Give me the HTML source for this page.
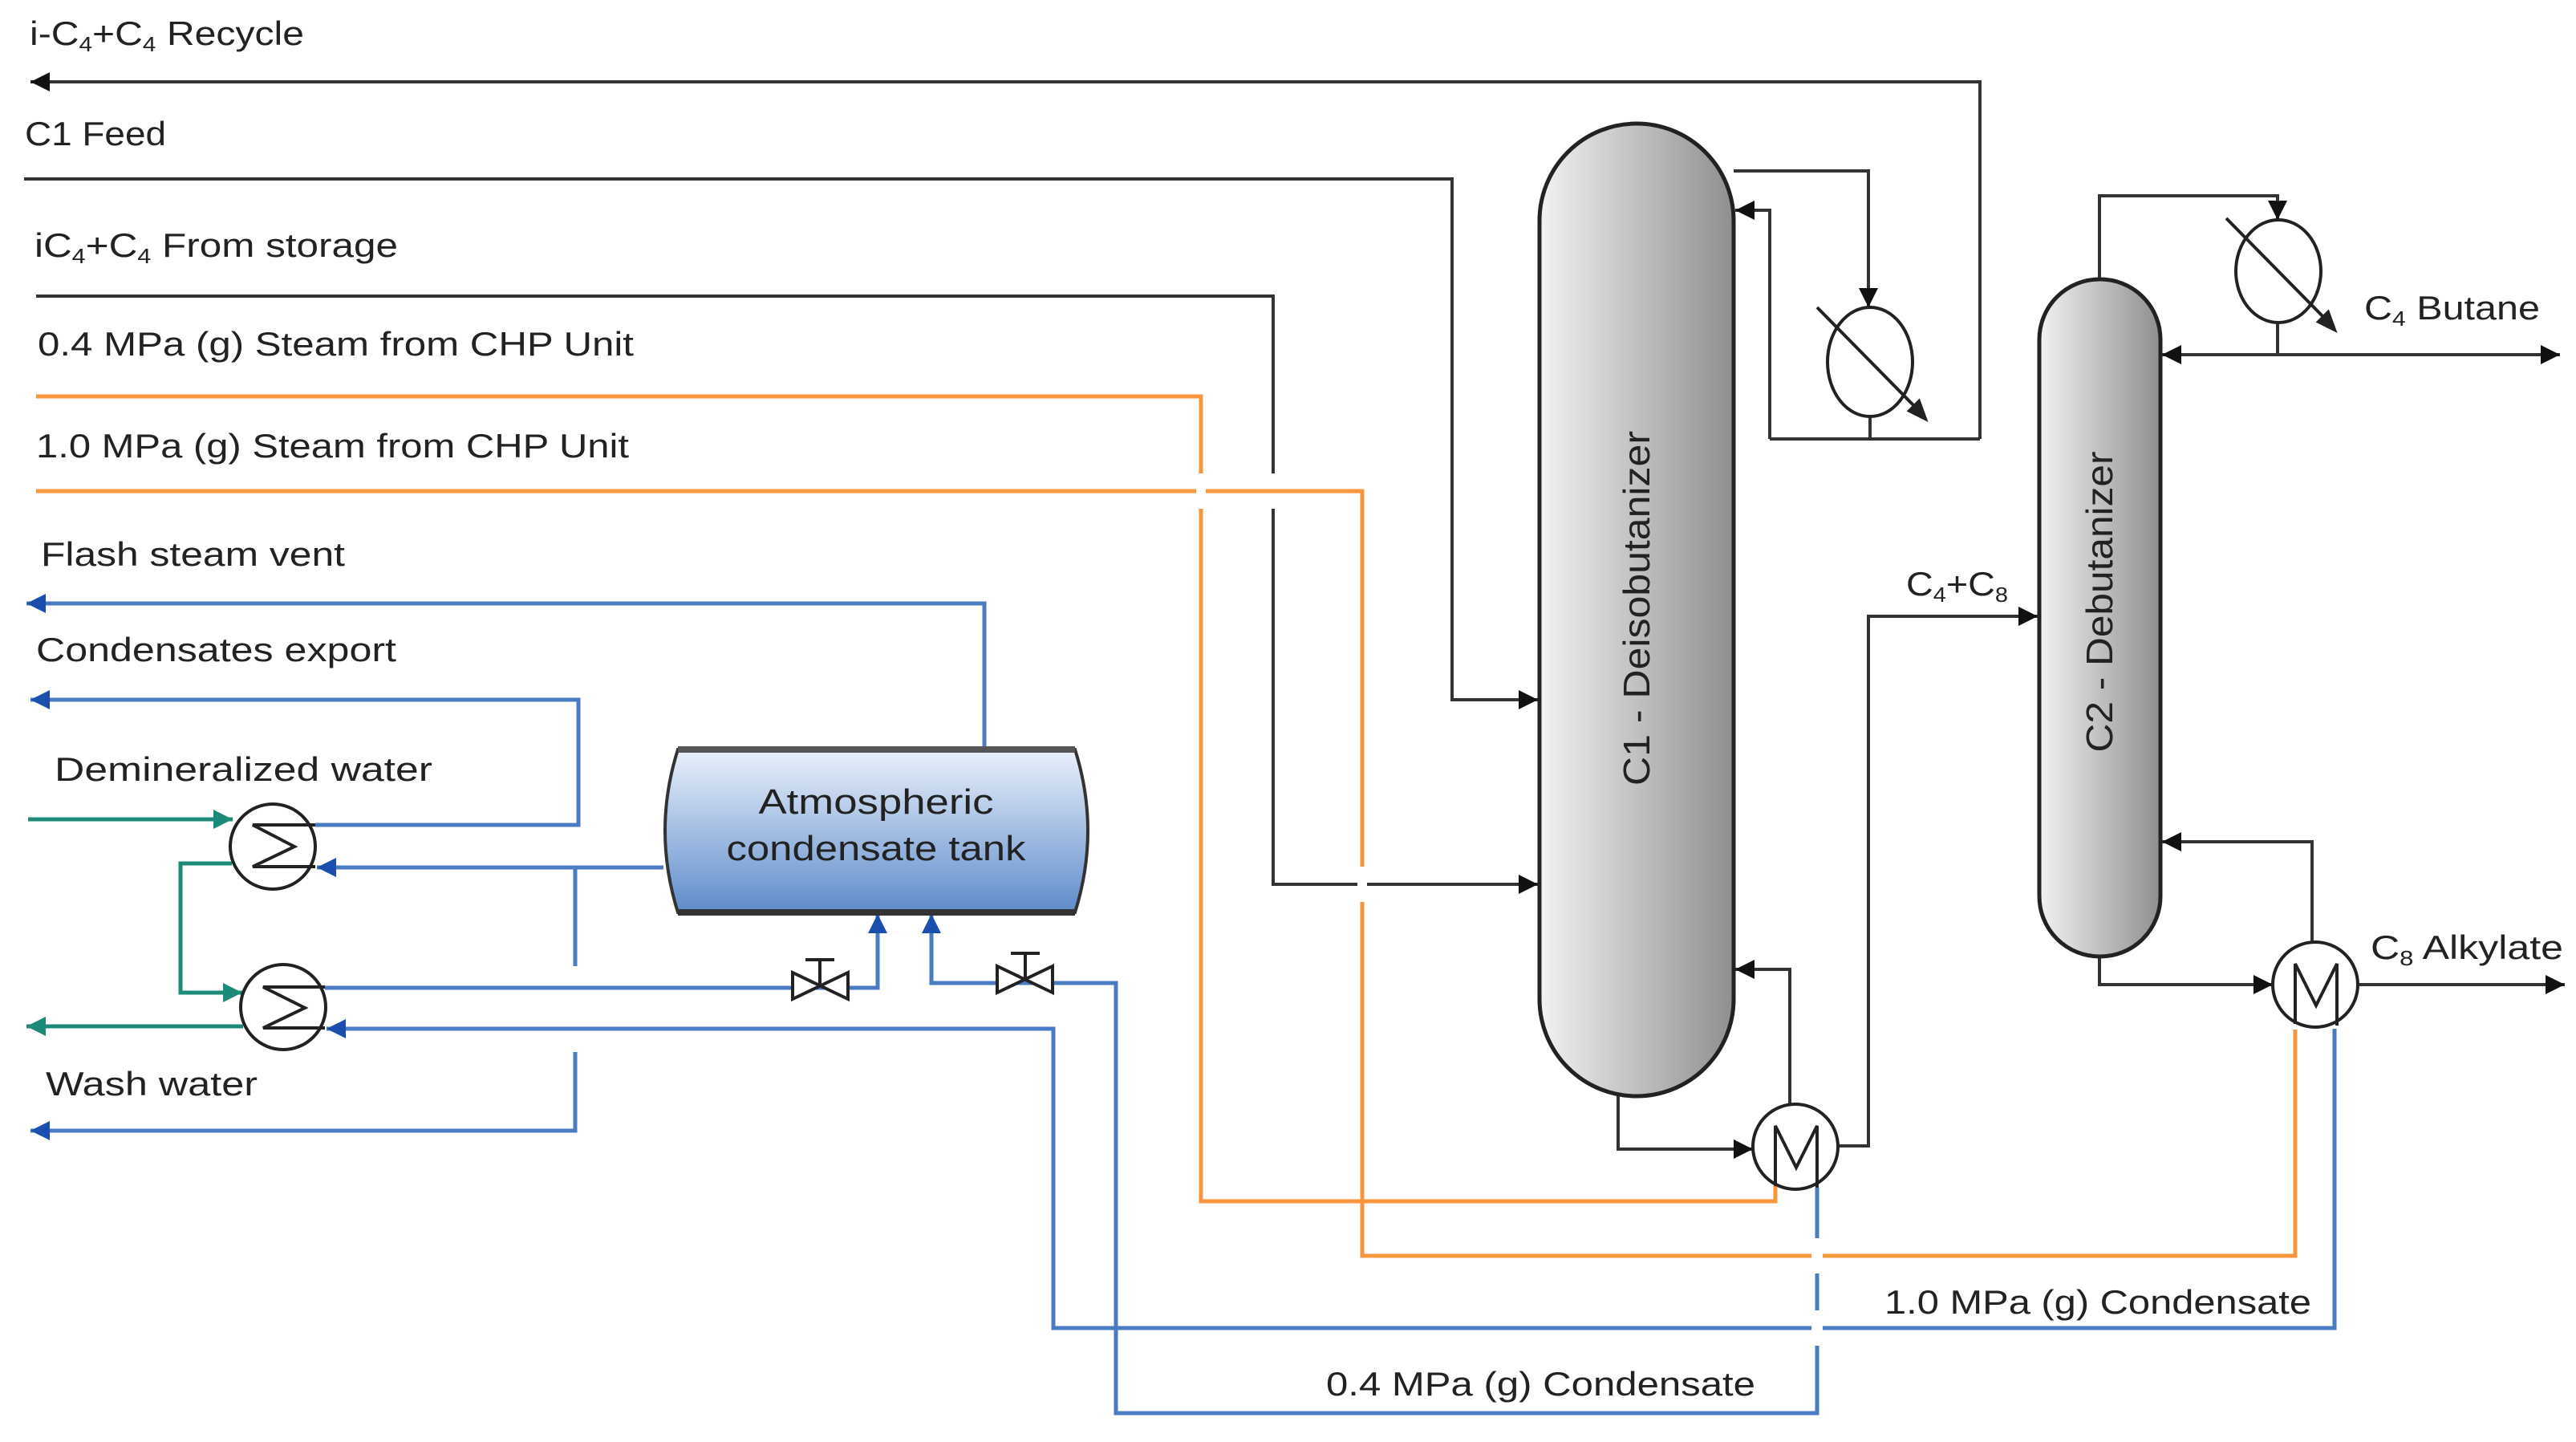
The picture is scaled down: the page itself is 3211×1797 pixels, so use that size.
<!DOCTYPE html>
<html><head><meta charset="utf-8"><style>
html,body{margin:0;padding:0;background:#fff;}
svg{display:block;}
text{font-family:"Liberation Sans",sans-serif;fill:#222;}
</style></head><body>
<svg width="3211" height="1797" viewBox="0 0 3211 1797" xmlns="http://www.w3.org/2000/svg">
<defs>
<marker id="ak" markerUnits="userSpaceOnUse" markerWidth="30" markerHeight="30" refX="24" refY="12" orient="auto"><path d="M0,0 L24,12 L0,24 Z" fill="#111"/></marker>
<marker id="ab" markerUnits="userSpaceOnUse" markerWidth="30" markerHeight="30" refX="24" refY="12" orient="auto"><path d="M0,0 L24,12 L0,24 Z" fill="#1a4fb0"/></marker>
<marker id="ag" markerUnits="userSpaceOnUse" markerWidth="30" markerHeight="30" refX="24" refY="12" orient="auto"><path d="M0,0 L24,12 L0,24 Z" fill="#1b8a78"/></marker>
<linearGradient id="col" x1="0" x2="1" y1="0" y2="0"><stop offset="0" stop-color="#f2f2f2"/><stop offset="1" stop-color="#8f8f8f"/></linearGradient>
<linearGradient id="tank" x1="0" x2="0" y1="0" y2="1"><stop offset="0" stop-color="#eaf1fb"/><stop offset="1" stop-color="#5f8ccb"/></linearGradient>
</defs>

<g fill="none" stroke="#333" stroke-width="4">
<path d="M2468,547 L2468,102 L38,102" marker-end="url(#ak)"/>
<path d="M2206,547 L2468,547"/>
<path d="M2206,547 L2206,262 L2163,262" marker-end="url(#ak)"/>
<path d="M2331,519 L2331,547"/>
<path d="M2161,213 L2329,213 L2329,383" marker-end="url(#ak)"/>
<path d="M30,223 L1810,223 L1810,872 L1917,872" marker-end="url(#ak)"/>
<path d="M45,369 L1587,369 L1587,1102 L1917,1102" marker-end="url(#ak)"/>
<path d="M2017,1366 L2017,1432 L2185,1432" marker-end="url(#ak)"/>
<path d="M2231,1376 L2231,1208 L2163,1208" marker-end="url(#ak)"/>
<path d="M2291,1428 L2329,1428 L2329,768 L2540,768" marker-end="url(#ak)"/>
<path d="M2617,348 L2617,244 L2839,244 L2839,274" marker-end="url(#ak)"/>
<path d="M2839,402 L2839,442"/>
<path d="M2839,442 L2695,442" marker-end="url(#ak)"/>
<path d="M2839,442 L3191,442" marker-end="url(#ak)"/>
<path d="M2617,1192 L2617,1227 L2833,1227" marker-end="url(#ak)"/>
<path d="M2882,1174 L2882,1049 L2695,1049" marker-end="url(#ak)"/>
<path d="M2939,1227 L3197,1227" marker-end="url(#ak)"/>
</g>
<!-- gap in black at orange crossing -->
<rect x="1582" y="590" width="10" height="44" fill="#fff"/>

<g fill="none" stroke="#f7963c" stroke-width="5">
<path d="M45,494 L1497,494 L1497,1497 L2213,1497 L2213,1478"/>
<path d="M45,612 L1698,612 L1698,1565 L2861,1565 L2861,1283"/>
</g>
<rect x="1491" y="590" width="12" height="44" fill="#fff"/>
<rect x="1692" y="1080" width="12" height="44" fill="#fff"/>

<g fill="none" stroke="#4a7cc4" stroke-width="5">
<path d="M2265,1480 L2265,1761 L1391,1761 L1391,1225 L1161,1225 L1161,1139" marker-end="url(#ab)"/>
<path d="M2910,1282 L2910,1655 L1313,1655 L1313,1282 L407,1282" marker-end="url(#ab)"/>
<path d="M827,1081 L395,1081" marker-end="url(#ab)"/>
<path d="M717,1081 L717,1204"/>
<path d="M717,1311 L717,1409 L38,1409" marker-end="url(#ab)"/>
<path d="M405,1231 L1094,1231 L1094,1139" marker-end="url(#ab)"/>
<path d="M393,1028 L721,1028 L721,872 L38,872" marker-end="url(#ab)"/>
<path d="M1227,934 L1227,752 L33,752" marker-end="url(#ab)"/>
</g>
<rect x="2258" y="1543" width="14" height="44" fill="#fff"/>
<rect x="2258" y="1633" width="14" height="44" fill="#fff"/>
<rect x="1386" y="1633" width="0" height="0" fill="#fff"/>
<rect x="1385" y="1640" width="12" height="0" fill="#fff"/>
<rect x="1385" y="1633" width="12" height="0" fill="#fff"/>

<g fill="none" stroke="#1b8a78" stroke-width="5">
<path d="M35,1021 L290,1021" marker-end="url(#ag)"/>
<path d="M289,1076 L225,1076 L225,1237 L302,1237" marker-end="url(#ag)"/>
<path d="M303,1279 L33,1279" marker-end="url(#ag)"/>
</g>

<!-- columns -->
<rect x="1919" y="154" width="242" height="1212" rx="121" ry="121" fill="url(#col)" stroke="#222" stroke-width="5"/>
<rect x="2542" y="348" width="151" height="844" rx="75" ry="75" fill="url(#col)" stroke="#222" stroke-width="5"/>
<text transform="translate(2056,758) rotate(-90)" font-size="46" text-anchor="middle" textLength="442" lengthAdjust="spacingAndGlyphs">C1 - Deisobutanizer</text>
<text transform="translate(2633,750) rotate(-90)" font-size="46" text-anchor="middle" textLength="375" lengthAdjust="spacingAndGlyphs">C2 - Debutanizer</text>

<!-- condensers -->
<g fill="#fff" stroke="#222" stroke-width="4">
<ellipse cx="2331" cy="451" rx="53" ry="68"/>
<ellipse cx="2840" cy="338" rx="53" ry="64"/>
</g>
<g stroke="#222" stroke-width="4" fill="#222">
<line x1="2265" y1="383" x2="2392" y2="512"/><path d="M2400,522 L2380,512 L2392,500 Z"/>
<line x1="2775" y1="272" x2="2902" y2="401"/><path d="M2910,411 L2890,401 L2902,389 Z"/>
</g>

<!-- reboilers -->
<g fill="#fff" stroke="#222" stroke-width="4">
<circle cx="2238" cy="1429" r="53"/>
<circle cx="2886" cy="1227" r="53"/>
</g>
<g fill="none" stroke="#222" stroke-width="4">
<path d="M2213,1478 L2213,1403 L2239,1455 L2265,1403 L2265,1480"/>
<path d="M2861,1276 L2861,1201 L2887,1253 L2913,1201 L2913,1278"/>
</g>

<!-- exchangers -->
<g fill="#fff" stroke="#222" stroke-width="4">
<circle cx="340" cy="1055" r="53"/>
<circle cx="353" cy="1255" r="53"/>
</g>
<g fill="none" stroke="#222" stroke-width="4">
<path d="M393,1028 L315,1028 L367,1055 L315,1080 L393,1080"/>
<path d="M405,1230 L328,1230 L380,1256 L328,1281 L405,1281"/>
</g>

<!-- tank -->
<path d="M845,934 L1340,934 Q1372,1035 1340,1137 L845,1137 Q813,1035 845,934 Z" fill="url(#tank)" stroke="#333" stroke-width="4"/>
<line x1="845" y1="934" x2="1340" y2="934" stroke="#555" stroke-width="8"/>
<line x1="845" y1="1137" x2="1340" y2="1137" stroke="#333" stroke-width="8"/>
<text x="1092" y="1014" font-size="44" text-anchor="middle" textLength="293" lengthAdjust="spacingAndGlyphs">Atmospheric</text>
<text x="1092" y="1072" font-size="44" text-anchor="middle" textLength="373" lengthAdjust="spacingAndGlyphs">condensate tank</text>

<!-- valves -->
<g fill="#fff" stroke="#222" stroke-width="4">
<path d="M988,1212 L1057,1245 L1057,1212 L988,1245 Z"/>
<line x1="1022" y1="1228" x2="1022" y2="1196"/><line x1="1004" y1="1196" x2="1040" y2="1196"/>
<path d="M1243,1204 L1312,1237 L1312,1204 L1243,1237 Z"/>
<line x1="1278" y1="1220" x2="1278" y2="1188"/><line x1="1260" y1="1188" x2="1296" y2="1188"/>
</g>

<!-- labels -->
<g font-size="42">
<text x="37" y="56" textLength="342" lengthAdjust="spacingAndGlyphs">i-C<tspan font-size="26" dy="8">4</tspan><tspan dy="-8">+C</tspan><tspan font-size="26" dy="8">4</tspan><tspan dy="-8"> Recycle</tspan></text>
<text x="31" y="181" textLength="176" lengthAdjust="spacingAndGlyphs">C1 Feed</text>
<text x="43" y="320" textLength="453" lengthAdjust="spacingAndGlyphs">iC<tspan font-size="26" dy="8">4</tspan><tspan dy="-8">+C</tspan><tspan font-size="26" dy="8">4</tspan><tspan dy="-8"> From storage</tspan></text>
<text x="47" y="443" textLength="743" lengthAdjust="spacingAndGlyphs">0.4 MPa (g) Steam from CHP Unit</text>
<text x="45" y="570" textLength="739" lengthAdjust="spacingAndGlyphs">1.0 MPa (g) Steam from CHP Unit</text>
<text x="51" y="705" textLength="379" lengthAdjust="spacingAndGlyphs">Flash steam vent</text>
<text x="45" y="824" textLength="449" lengthAdjust="spacingAndGlyphs">Condensates export</text>
<text x="68" y="973" textLength="471" lengthAdjust="spacingAndGlyphs">Demineralized water</text>
<text x="57" y="1365" textLength="264" lengthAdjust="spacingAndGlyphs">Wash water</text>
<text x="2376" y="742" textLength="127" lengthAdjust="spacingAndGlyphs">C<tspan font-size="26" dy="8">4</tspan><tspan dy="-8">+C</tspan><tspan font-size="26" dy="8">8</tspan></text>
<text x="2947" y="398" textLength="219" lengthAdjust="spacingAndGlyphs">C<tspan font-size="26" dy="8">4</tspan><tspan dy="-8"> Butane</tspan></text>
<text x="2955" y="1195" textLength="240" lengthAdjust="spacingAndGlyphs">C<tspan font-size="26" dy="8">8</tspan><tspan dy="-8"> Alkylate</tspan></text>
<text x="2349" y="1637" textLength="532" lengthAdjust="spacingAndGlyphs">1.0 MPa (g) Condensate</text>
<text x="1653" y="1739" textLength="535" lengthAdjust="spacingAndGlyphs">0.4 MPa (g) Condensate</text>
</g>
</svg>
</body></html>
